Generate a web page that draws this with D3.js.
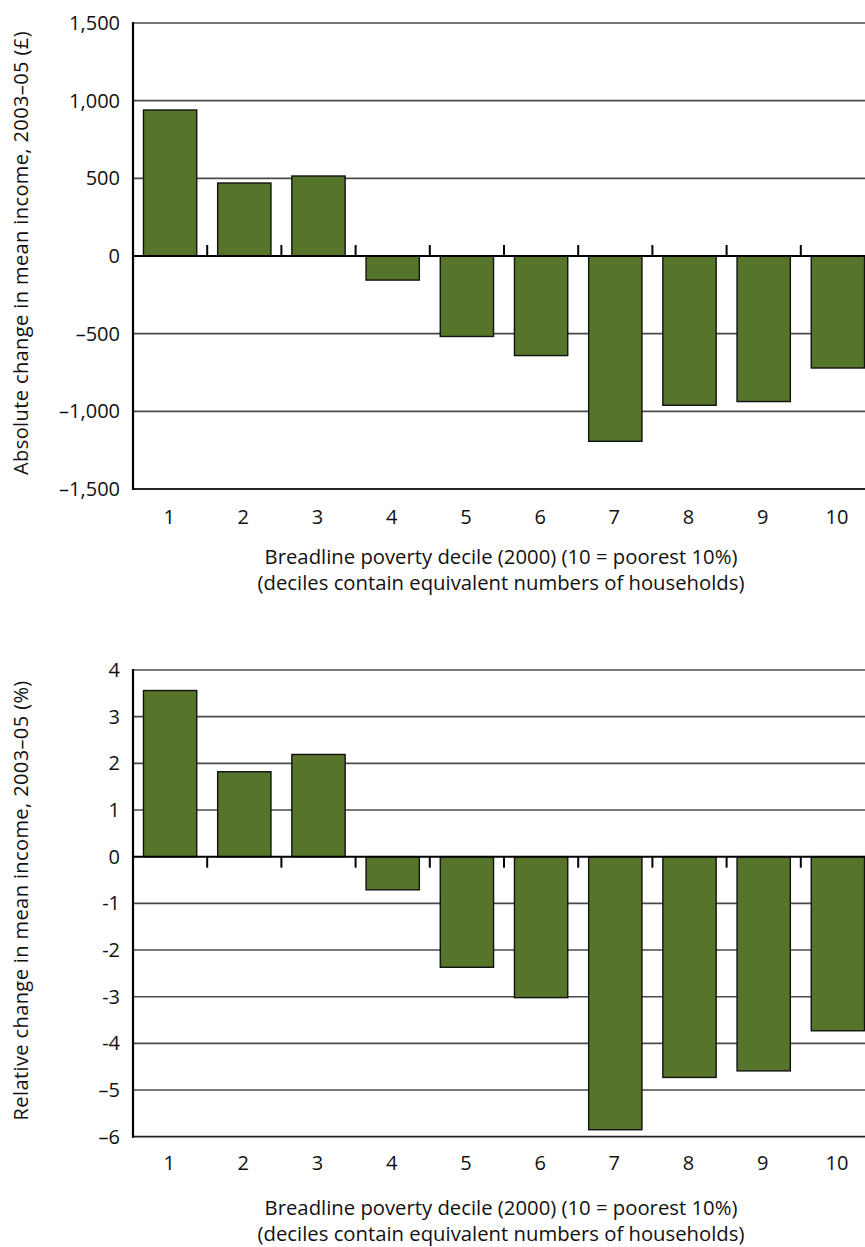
<!DOCTYPE html>
<html>
<head>
<meta charset="utf-8">
<script src="https://cdn.jsdelivr.net/npm/d3@7"></script>
<style>
  html, body { margin: 0; padding: 0; background: #fff; }
  svg { display: block; }
  text { font-family: "Open Sans", Lato, sans-serif; fill: #111; }
</style>
</head>
<body>
<svg id="chart" width="865" height="1247"></svg>
<script>
// ---- data ----
const categories = ["1", "2", "3", "4", "5", "6", "7", "8", "9", "10"];
const absoluteChange = [940, 470, 515, -155, -518, -641, -1193, -961, -937, -721];
const relativeChange = [3.56, 1.82, 2.19, -0.71, -2.37, -3.02, -5.85, -4.73, -4.59, -3.73];
const absTicks = [-1500, -1000, -500, 0, 500, 1000, 1500];
const absTickLabels = ["–1,500", "–1,000", "–500", "0", "500", "1,000", "1,500"];
const relTicks = [-6, -5, -4, -3, -2, -1, 0, 1, 2, 3, 4];
const relTickLabels = ["–6", "–5", "-4", "-3", "-2", "-1", "0", "1", "2", "3", "4"];
const absYTitle = "Absolute change in mean income, 2003–05 (£)";
const relYTitle = "Relative change in mean income, 2003–05 (%)";
const xTitle1 = "Breadline poverty decile (2000) (10 = poorest 10%)";
const xTitle2 = "(deciles contain equivalent numbers of households)";

const svg = d3.select("#chart");
const barColor = "#56752a";

function drawPanel(cfg) {
  const g = svg.append("g");
  const x = d3.scaleBand().domain(categories).range([133, 875]).paddingInner(0.282).paddingOuter(0.141);
  const y = d3.scaleLinear().domain(cfg.domain).range([cfg.bottom, cfg.top]);

  // gridlines
  g.selectAll("line.grid").data(cfg.ticks.filter(t => t !== 0 && t !== cfg.domain[0]))
    .enter().append("line")
    .attr("x1", 133).attr("x2", 865)
    .attr("y1", d => y(d)).attr("y2", d => y(d))
    .attr("stroke", "#4a4a4a").attr("stroke-width", 1.6);

  // bottom axis line
  g.append("line").attr("x1", 133).attr("x2", 865)
    .attr("y1", y(cfg.domain[0])).attr("y2", y(cfg.domain[0]))
    .attr("stroke", "#222").attr("stroke-width", 1.8);

  // bars
  g.selectAll("rect.bar").data(cfg.values).enter().append("rect")
    .attr("x", (d, i) => x(categories[i]))
    .attr("width", x.bandwidth())
    .attr("y", d => Math.min(y(d), y(0)))
    .attr("height", d => Math.abs(y(d) - y(0)))
    .attr("fill", barColor)
    .attr("stroke", "#111").attr("stroke-width", 1.4);

  // zero line
  g.append("line").attr("x1", 133).attr("x2", 865)
    .attr("y1", y(0)).attr("y2", y(0))
    .attr("stroke", "#000").attr("stroke-width", 2);

  // category tick marks between bands
  const step = x.step();
  const tickPos = d3.range(1, categories.length).map(i => 133 + i * step);
  g.selectAll("line.ctick").data(tickPos).enter().append("line")
    .attr("x1", d => d).attr("x2", d => d)
    .attr("y1", y(0)).attr("y2", y(0) + cfg.tickDir * 11)
    .attr("stroke", "#000").attr("stroke-width", 2);

  // left axis line
  g.append("line").attr("x1", 133).attr("x2", 133)
    .attr("y1", cfg.top - 1).attr("y2", cfg.bottom + 1)
    .attr("stroke", "#000").attr("stroke-width", 2.2);

  // y tick labels
  g.selectAll("text.ylab").data(cfg.ticks).enter().append("text")
    .attr("x", 120).attr("y", d => y(d))
    .attr("dy", "0.35em")
    .attr("text-anchor", "end")
    .attr("font-size", 20)
    .text((d, i) => cfg.tickLabels[i]);

  // x tick labels
  g.selectAll("text.xlab").data(categories).enter().append("text")
    .attr("x", d => x(d) + x.bandwidth() / 2 - 1)
    .attr("y", cfg.xLabelY)
    .attr("dy", "0.35em")
    .attr("text-anchor", "middle")
    .attr("font-size", 20)
    .text(d => d);

  // x title
  g.append("text").attr("x", 501).attr("y", cfg.xTitleY)
    .attr("dy", "0.35em").attr("text-anchor", "middle").attr("font-size", 20.3)
    .text(xTitle1);
  g.append("text").attr("x", 501).attr("y", cfg.xTitleY + 25.5)
    .attr("dy", "0.35em").attr("text-anchor", "middle").attr("font-size", 20.3)
    .text(xTitle2);

  // y title
  g.append("text")
    .attr("transform", `translate(21,${(cfg.top + cfg.bottom) / 2 - 3}) rotate(-90)`)
    .attr("dy", "0.35em").attr("text-anchor", "middle").attr("font-size", 20)
    .attr("letter-spacing", 0.4)
    .text(cfg.yTitle);
}

drawPanel({
  values: absoluteChange, domain: [-1500, 1500], ticks: absTicks, tickLabels: absTickLabels,
  top: 23, bottom: 489, tickDir: -1,
  xLabelY: 517, xTitleY: 557, yTitle: absYTitle
});
drawPanel({
  values: relativeChange, domain: [-6, 4], ticks: relTicks, tickLabels: relTickLabels,
  top: 670, bottom: 1136.7, tickDir: 1,
  xLabelY: 1163, xTitleY: 1208, yTitle: relYTitle
});
</script>
</body>
</html>
